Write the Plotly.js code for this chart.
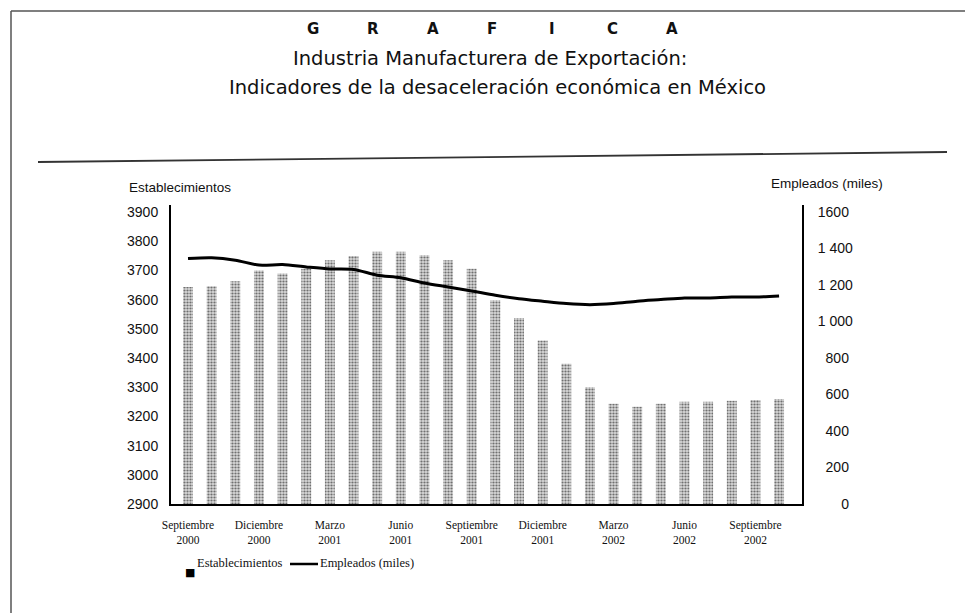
<!DOCTYPE html>
<html>
<head>
<meta charset="utf-8">
<script src="https://cdn.plot.ly/plotly-3.0.1.min.js"></script>
<style>
html,body{margin:0;padding:0;background:#fff;}
#chart{width:965px;height:613px;}
</style>
</head>
<body>
<div id="chart"></div>
<script>
// ---- Data ----
const meses = ["Sep 2000","Oct 2000","Nov 2000","Dic 2000","Ene 2001","Feb 2001","Mar 2001","Abr 2001","May 2001","Jun 2001","Jul 2001","Ago 2001","Sep 2001","Oct 2001","Nov 2001","Dic 2001","Ene 2002","Feb 2002","Mar 2002","Abr 2002","May 2002","Jun 2002","Jul 2002","Ago 2002","Sep 2002","Oct 2002"];
const establecimientos = [3643,3646,3663,3700,3689,3706,3735,3749,3764,3764,3752,3735,3706,3598,3537,3460,3380,3300,3243,3233,3243,3250,3250,3254,3256,3260];
const empleados = [1345,1349,1336,1309,1312,1299,1288,1285,1254,1240,1211,1189,1167,1144,1125,1111,1098,1092,1098,1111,1120,1129,1129,1134,1134,1140];
const xTickVals = ["Sep 2000","Dic 2000","Mar 2001","Jun 2001","Sep 2001","Dic 2001","Mar 2002","Jun 2002","Sep 2002"];
const xTickText = ["Septiembre<br>2000","Diciembre<br>2000","Marzo<br>2001","Junio<br>2001","Septiembre<br>2001","Diciembre<br>2001","Marzo<br>2002","Junio<br>2002","Septiembre<br>2002"];
const yLeftTicks = [2900,3000,3100,3200,3300,3400,3500,3600,3700,3800,3900];
const yRightTicks = [0,200,400,600,800,1000,1200,1400,1600];
const yRightText = ["\u2007\u2007\u20070","\u2007200","\u2007400","\u2007600","\u2007800","1 000","1 200","1 400","1600"];
const letrasGrafica = ["G","R","A","F","I","C","A"];
const titulo2 = "Industria Manufacturera de Exportación:";
const titulo3 = "Indicadores de la desaceleración económica en México";
const nombreBarras = "Establecimientos";
const nombreLinea = "Empleados (miles)";

// ---- Layout helpers (pixel -> paper) ----
const W = 965, H = 613;
const M = {l:171, r:163, t:205, b:109};
const PW = W - M.l - M.r, PH = H - M.t - M.b;
const px = x => (x - M.l) / PW;
const py = y => (H - M.b - y) / PH;

const sans = "Liberation Sans, Arial, sans-serif";
const serif = "Liberation Serif, Times New Roman, serif";
const titleFont = "DejaVu Sans, sans-serif";

const traces = [
  {
    type: "bar",
    name: nombreBarras,
    x: meses,
    y: establecimientos,
    width: 0.42,
    marker: {
      color: "#d2d2d2",
      line: {width: 0},
      pattern: {shape: ".", fgcolor: "#707070", bgcolor: "#d8d8d8", size: 3, solidity: 0.42}
    },
    showlegend: false,
    hoverinfo: "x+y"
  },
  {
    type: "scatter",
    mode: "lines",
    name: nombreLinea,
    x: meses,
    y: empleados,
    yaxis: "y2",
    line: {color: "#000", width: 3, shape: "spline", smoothing: 0.8},
    showlegend: false,
    hoverinfo: "x+y"
  }
];

const annotations = [];
letrasGrafica.forEach((ch, i) => {
  annotations.push({
    xref: "paper", yref: "paper", x: px(313 + i * 59.8), y: py(29),
    text: ch, showarrow: false, xanchor: "center", yanchor: "middle",
    font: {family: titleFont, size: 15, color: "#111", weight: "bold"}
  });
});
annotations.push({xref:"paper", yref:"paper", x: px(490), y: py(58), text: titulo2, showarrow:false,
  xanchor:"center", yanchor:"middle", font:{family:titleFont, size:19.5, color:"#111"}});
annotations.push({xref:"paper", yref:"paper", x: px(497), y: py(87), text: titulo3, showarrow:false,
  xanchor:"center", yanchor:"middle", font:{family:titleFont, size:19.5, color:"#111"}});
annotations.push({xref:"paper", yref:"paper", x: px(127), y: py(187), text: nombreBarras, showarrow:false,
  xanchor:"left", yanchor:"middle", font:{family:sans, size:13.5, color:"#111"}});
annotations.push({xref:"paper", yref:"paper", x: px(885), y: py(183), text: nombreLinea, showarrow:false,
  xanchor:"right", yanchor:"middle", font:{family:sans, size:13.5, color:"#111"}});
// legend (drawn as text + key marks)
annotations.push({xref:"paper", yref:"paper", x: px(183), y: py(572), text: "■", showarrow:false,
  xanchor:"left", yanchor:"middle", font:{family:"DejaVu Sans, sans-serif", size:11, color:"#000"}});
annotations.push({xref:"paper", yref:"paper", x: px(195), y: py(563), text: nombreBarras, showarrow:false,
  xanchor:"left", yanchor:"middle", font:{family:serif, size:12.5, color:"#111"}});
annotations.push({xref:"paper", yref:"paper", x: px(318), y: py(563), text: nombreLinea, showarrow:false,
  xanchor:"left", yanchor:"middle", font:{family:serif, size:12.5, color:"#111"}});

const shapes = [
  // frame (top and left)
  {type:"line", xref:"paper", yref:"paper", x0: px(11), y0: py(11), x1: px(965), y1: py(11), line:{color:"#555", width:1.5}},
  {type:"line", xref:"paper", yref:"paper", x0: px(11), y0: py(11), x1: px(11), y1: py(613), line:{color:"#555", width:1.5}},
  // divider under titles
  {type:"line", xref:"paper", yref:"paper", x0: px(38), y0: py(162), x1: px(947), y1: py(152), line:{color:"#333", width:1.8}},
  // legend line key
  {type:"line", xref:"paper", yref:"paper", x0: px(290), y0: py(564), x1: px(318), y1: py(564), line:{color:"#000", width:2.5}}
];

const layout = {
  width: W, height: H,
  margin: M,
  paper_bgcolor: "#fff",
  plot_bgcolor: "#fff",
  showlegend: false,
  bargap: 0.58,
  xaxis: {
    type: "category",
    categoryorder: "array", categoryarray: meses,
    range: [-0.72, 25.97],
    tickvals: xTickVals, ticktext: xTickText,
    tickfont: {family: serif, size: 11.5, color: "#111"},
    showline: true, linecolor: "#000", linewidth: 2,
    showgrid: false, zeroline: false, ticks: "",
    ticklabelstandoff: 9
  },
  yaxis: {
    range: [2900, 3924],
    tickvals: yLeftTicks,
    tickfont: {family: sans, size: 14, color: "#111"},
    showline: true, linecolor: "#000", linewidth: 2,
    showgrid: false, zeroline: false, ticks: "",
    ticklabelstandoff: 8
  },
  yaxis2: {
    overlaying: "y", side: "right",
    range: [0, 1638.4],
    tickvals: yRightTicks, ticktext: yRightText,
    tickfont: {family: sans, size: 14, color: "#111"},
    showline: true, linecolor: "#000", linewidth: 2,
    showgrid: false, zeroline: false, ticks: "",
    ticklabelstandoff: 11
  },
  annotations: annotations,
  shapes: shapes
};

Plotly.newPlot("chart", traces, layout, {displayModeBar: false, staticPlot: true});
</script>
</body>
</html>
